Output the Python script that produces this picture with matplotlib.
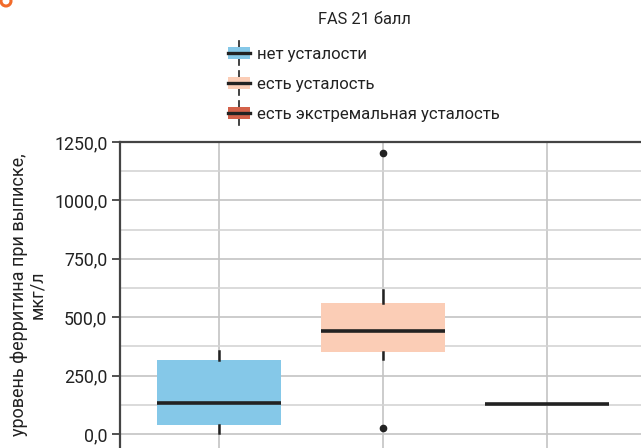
import matplotlib
matplotlib.use("Agg")
import matplotlib.pyplot as plt
from matplotlib.legend_handler import HandlerBase
from matplotlib.patches import Rectangle, Ellipse
from matplotlib.lines import Line2D
from matplotlib.ticker import FuncFormatter, MultipleLocator

plt.rcParams['font.family'] = ['Roboto', 'DejaVu Sans']

# ---- data ----
categories = ["нет усталости", "есть усталость", "есть экстремальная усталость"]
q1 = [40, 353, 127]
med = [133, 443, 127]
q3 = [317, 562, 127]
whislo = [3, 323, 127]
whishi = [357, 616, 127]
fliers = [[], [1202, 24], []]
colors = ["#85C8E8", "#FBCDB6", "#D4624A"]
yticks = [0, 250, 500, 750, 1000, 1250]
title = "FAS 21 балл"
ylabel = "уровень ферритина при выписке,\nмкг/л"

fig = plt.figure(figsize=(6.41, 4.48), dpi=100)
ax = fig.add_axes([120/641, 0.0, 1 - 120/641, 1 - 142/448])

stats = []
for i in range(len(categories)):
    stats.append(dict(med=med[i], q1=q1[i], q3=q3[i], whislo=whislo[i],
                      whishi=whishi[i], fliers=fliers[i], label=categories[i]))

bp = ax.bxp(stats, positions=range(len(categories)), widths=0.76,
            patch_artist=True, showcaps=False,
            boxprops=dict(linewidth=0),
            whiskerprops=dict(color="#222222", linewidth=1.8),
            medianprops=dict(color="#222222", linewidth=2.6),
            flierprops=dict(marker='o', markerfacecolor="#222222",
                            markeredgecolor="#222222", markersize=4.5),
            zorder=3)
for patch, c in zip(bp['boxes'], colors):
    patch.set_facecolor(c)
    patch.set_edgecolor(c)

ax.set_xlim(-0.604, 2.573)
ax.set_ylim(-60, 1250)
ax.set_yticks(yticks)
ax.yaxis.set_minor_locator(MultipleLocator(125))
ax.yaxis.set_major_formatter(FuncFormatter(lambda v, p: f"{v:.1f}".replace('.', ',')))
ax.set_xticks(range(len(categories)))
ax.set_xticklabels([])
ax.tick_params(axis='x', length=0)
ax.tick_params(axis='y', which='major', length=6, width=1.2, color="#333333",
               labelsize=12.8, labelcolor="#222222", pad=3)
ax.tick_params(axis='y', which='minor', length=0)
ax.grid(True, which='major', axis='both', color="#c4c4c4", linewidth=1.2, zorder=0)
ax.grid(True, which='minor', axis='y', color="#d4d4d4", linewidth=1.2, zorder=0)
ax.set_axisbelow(True)
for s in ['right', 'bottom']:
    ax.spines[s].set_visible(False)
for s in ['left', 'top']:
    ax.spines[s].set_color("#444444")
    ax.spines[s].set_linewidth(1.6)

fig.text(28/641, 1 - 295/448, ylabel, rotation=90, ha='center', va='center',
         fontsize=13, color="#222222", linespacing=1.0, multialignment='center')

fig.text(364/641, 1 - 20/448, title, ha='center', va='center', fontsize=11.8, color="#222222")


class HandlerBox(HandlerBase):
    def create_artists(self, legend, orig_handle, xdescent, ydescent, width, height, fontsize, trans):
        c = orig_handle.get_facecolor()
        cx = -xdescent + width / 2
        cy = -ydescent + height / 2
        vline = Line2D([cx, cx], [cy - 8.6, cy + 8.6], color="#222222", lw=1.2, transform=trans)
        rect = Rectangle((-xdescent, cy - 4.4), width, 8.8, facecolor=c, edgecolor='none', transform=trans)
        hline = Line2D([-xdescent, -xdescent + width], [cy, cy], color="#222222", lw=2.4, transform=trans)
        return [vline, rect, hline]


handles = [Rectangle((0, 0), 1, 1, facecolor=c) for c in colors]
leg = fig.legend(handles, categories, handler_map={Rectangle: HandlerBox()},
                 loc='upper left', bbox_to_anchor=(228/641, 1 - 46/448),
                 frameon=False, fontsize=12.1, handlelength=1.3, handleheight=0.9,
                 handletextpad=0.4, labelspacing=0.85, borderpad=0, borderaxespad=0)
for t in leg.get_texts():
    t.set_color("#222222")

# cropped orange ring fragment in the top-left corner
fig.add_artist(Ellipse((6/641, 1 - 1/448), 10/641, 10/448, transform=fig.transFigure,
                       facecolor='none', edgecolor="#F26B2A", linewidth=2.2))

fig.savefig("out.png", dpi=100)
